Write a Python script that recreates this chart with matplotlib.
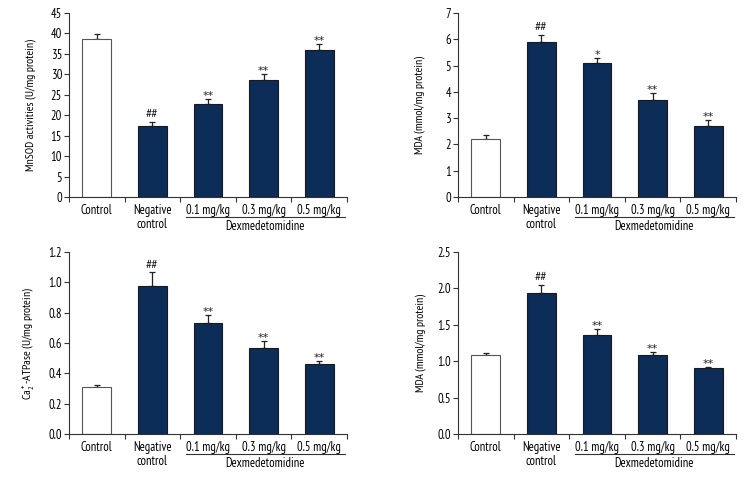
import matplotlib
matplotlib.use("Agg")
import matplotlib.pyplot as plt
import matplotlib.transforms as mtransforms
from matplotlib.ticker import FixedLocator

plt.rcParams['font.family'] = ['PT Sans Narrow', 'DejaVu Sans']
plt.rcParams['mathtext.fontset'] = 'custom'
plt.rcParams['mathtext.rm'] = 'PT Sans Narrow'
plt.rcParams['mathtext.it'] = 'PT Sans Narrow'
plt.rcParams['mathtext.default'] = 'regular'

categories = ["Control", "Negative\ncontrol", "0.1 mg/kg", "0.3 mg/kg", "0.5 mg/kg"]
group_label = "Dexmedetomidine"

mnsod_vals = [38.6, 17.4, 22.8, 28.6, 35.9]
mnsod_err = [1.2, 0.9, 1.2, 1.5, 1.5]
mnsod_marks = ["", "##", "**", "**", "**"]

mda1_vals = [2.19, 5.88, 5.10, 3.70, 2.72]
mda1_err = [0.17, 0.30, 0.20, 0.25, 0.22]
mda1_marks = ["", "##", "*", "**", "**"]

atp_vals = [0.311, 0.979, 0.734, 0.569, 0.460]
atp_err = [0.011, 0.087, 0.048, 0.044, 0.020]
atp_marks = ["", "##", "**", "**", "**"]

mda2_vals = [1.086, 1.934, 1.355, 1.090, 0.903]
mda2_err = [0.032, 0.110, 0.082, 0.032, 0.017]
mda2_marks = ["", "##", "**", "**", "**"]

panels = [
    dict(vals=mnsod_vals, err=mnsod_err, marks=mnsod_marks, ylim=45, step=5,
         fmt="{:.0f}", ylabel="MnSOD activities (U/mg protein)",
         rect=[69/756, 1-197/480, 278/756, 184/480], lx=-0.12),
    dict(vals=mda1_vals, err=mda1_err, marks=mda1_marks, ylim=7, step=1,
         fmt="{:.0f}", ylabel="MDA (mmol/mg protein)",
         rect=[458/756, 1-197/480, 278/756, 184/480], lx=-0.12),
    dict(vals=atp_vals, err=atp_err, marks=atp_marks, ylim=1.2, step=0.2,
         fmt="{:.1f}", ylabel=r"Ca$_2^+$-ATPase (U/mg protein)",
         rect=[69/756, 1-434/480, 278/756, 182/480], lx=-0.12),
    dict(vals=mda2_vals, err=mda2_err, marks=mda2_marks, ylim=2.5, step=0.5,
         fmt="{:.1f}", ylabel="MDA (mmol/mg protein)",
         rect=[458/756, 1-434/480, 278/756, 182/480], lx=-0.115),
]

navy = "#0b2d58"
fs = 9
fig = plt.figure(figsize=(7.56, 4.8), dpi=100)

for p in panels:
    ax = fig.add_axes(p["rect"])
    x = list(range(len(categories)))
    colors = ["white"] + [navy] * (len(categories) - 1)
    edges = ["#555555"] + ["#1a1a1a"] * (len(categories) - 1)
    ax.bar(x, p["vals"], width=0.52, color=colors, edgecolor=edges, linewidth=0.8, zorder=2)
    ax.errorbar(x, p["vals"], yerr=[[0]*len(x), p["err"]], fmt="none", ecolor="#222222",
                elinewidth=0.9, capsize=2.2, capthick=0.9, zorder=1)
    for xi, v, e, m in zip(x, p["vals"], p["err"], p["marks"]):
        if m.startswith("#"):
            ax.annotate(m, (xi, v + e), xytext=(0, 0.5), textcoords="offset points",
                        ha="center", va="bottom", fontsize=10, color="#222222")
        elif m:
            ax.annotate(m, (xi, v + e), xytext=(0, -1.5), textcoords="offset points",
                        ha="center", va="bottom", fontsize=8, color="#222222",
                        family="DejaVu Sans")
    ax.set_xlim(-0.5, 4.5)
    ax.set_ylim(0, p["ylim"])
    n = int(round(p["ylim"] / p["step"]))
    ticks = [i * p["step"] for i in range(n + 1)]
    ax.set_yticks(ticks)
    ax.set_yticklabels([p["fmt"].format(t) for t in ticks], fontsize=fs)
    ax.set_xticks(x)
    ax.set_xticklabels(categories, fontsize=fs, va="top", linespacing=1.15)
    ax.tick_params(axis="x", which="major", length=0, pad=5)
    ax.xaxis.set_minor_locator(FixedLocator([-0.5, 0.5, 1.5, 2.5, 3.5, 4.5]))
    ax.tick_params(axis="x", which="minor", length=3.5, width=0.8, direction="out", color="#333333")
    ax.tick_params(axis="y", length=3.5, width=0.8, direction="out", color="#333333", pad=1.5)
    for s in ["top", "right"]:
        ax.spines[s].set_visible(False)
    for s in ["left", "bottom"]:
        ax.spines[s].set_linewidth(0.8)
        ax.spines[s].set_color("#333333")
    ax.set_ylabel(p["ylabel"], fontsize=8.5)
    ax.yaxis.set_label_coords(p["lx"], 0.5)
    trans = mtransforms.blended_transform_factory(ax.transData, ax.transAxes)
    hpx = p["rect"][3] * 480
    ax.plot([1.6, 4.47], [-20/hpx, -20/hpx], transform=trans, color="#333333",
            linewidth=0.8, clip_on=False)
    ax.text(3.03, -23/hpx, group_label, transform=trans, ha="center", va="top", fontsize=fs)

fig.savefig("out.png", dpi=100)
